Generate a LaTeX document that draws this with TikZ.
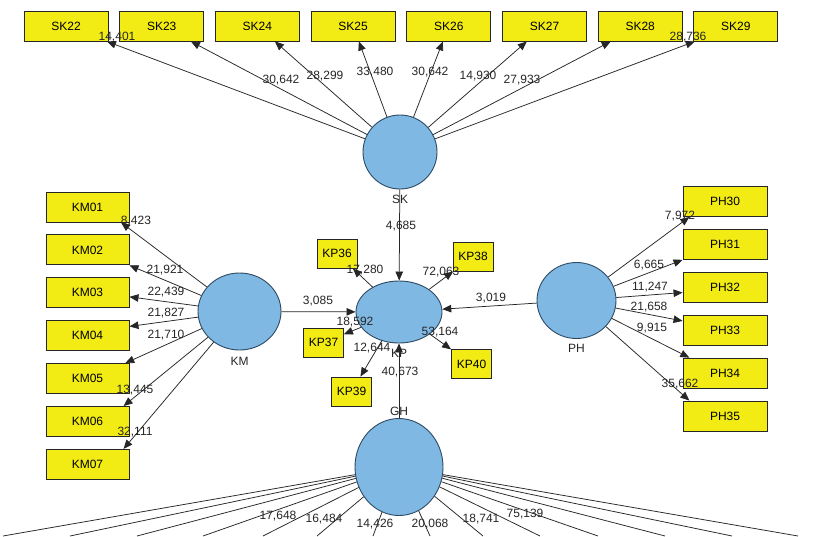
\documentclass[tikz,border=0pt]{standalone}
\usepackage{fontspec}
\setmainfont{Liberation Sans}
\usetikzlibrary{arrows.meta,positioning,calc,shapes.geometric}
\definecolor{ink}{HTML}{262626}
\definecolor{itemfill}{HTML}{F2EC14}
\definecolor{latentfill}{HTML}{80B8E4}
\definecolor{latentline}{HTML}{2E4A63}
\tikzset{
  item/.style={draw=ink, fill=itemfill, line width=0.9pt, minimum width=84pt, minimum height=30pt, inner sep=0pt, font=\fontsize{12}{14}\selectfont},
  smallitem/.style={item, minimum width=40pt, minimum height=29pt},
  latent/.style={ellipse, draw=latentline, fill=latentfill, line width=0.9pt, inner sep=0pt, label distance=4pt},
  latentname/.style={font=\fontsize{12}{14}\selectfont, text=ink, inner sep=0pt},
  arrow/.style={-{Triangle[length=9pt,width=7.5pt]}, line width=0.75pt, draw=ink},
  link/.style={line width=0.75pt, draw=ink},
  weight/.style={font=\fontsize{12}{14}\selectfont, text=ink, inner sep=0pt}
}

\begin{document}
\begin{tikzpicture}[x=1pt, y=-1pt]
  \useasboundingbox (0,0) rectangle (818,536);
  \fill[white] (0,0) rectangle (818,536);

  % latent variables
  \node[latent, minimum width=74pt, minimum height=74pt, label={[latentname, name=sklabel, label distance=5.5pt]below:SK}] (sk) at (400,152) {};
  \node[latent, minimum width=83pt, minimum height=77pt, label={[latentname, name=kmlabel, label distance=7pt]below:KM}] (km) at (239.5,311.5) {};
  \node[latent, minimum width=86pt, minimum height=62pt, label={[latentname, name=kplabel, label distance=5.5pt]below:KP}] (kp) at (399,312) {};
  \node[latent, minimum width=79pt, minimum height=76pt, label={[latentname, name=phlabel, label distance=5.5pt]below:PH}] (ph) at (576.5,300.5) {};
  \node[latent, minimum width=88pt, minimum height=97pt, label={[latentname, name=ghlabel, label distance=2.5pt]above:GH}] (gh) at (399,467) {};

  % SK indicators
  \node[item] (sk22) at (66,26) {SK22};
  \node[item, right=10.8pt of sk22] (sk23) {SK23};
  \node[item, right=10.8pt of sk23] (sk24) {SK24};
  \node[item, right=10.8pt of sk24] (sk25) {SK25};
  \node[item, right=10.8pt of sk25] (sk26) {SK26};
  \node[item, right=10.8pt of sk26] (sk27) {SK27};
  \node[item, right=10.8pt of sk27] (sk28) {SK28};
  \node[item, right=10.8pt of sk28] (sk29) {SK29};

  % KM indicators
  \node[item, minimum width=83pt] (km01) at (87.5,207) {KM01};
  \node[item, minimum width=83pt, below=12pt of km01] (km02) {KM02};
  \node[item, minimum width=83pt, below=12pt of km02] (km03) {KM03};
  \node[item, minimum width=83pt, below=12pt of km03] (km04) {KM04};
  \node[item, minimum width=83pt, below=12pt of km04] (km05) {KM05};
  \node[item, minimum width=83pt, below=12pt of km05] (km06) {KM06};
  \node[item, minimum width=83pt, below=12pt of km06] (km07) {KM07};

  % PH indicators
  \node[item] (ph30) at (725,201.5) {PH30};
  \node[item, below=12pt of ph30] (ph31) {PH31};
  \node[item, below=12pt of ph31] (ph32) {PH32};
  \node[item, below=12pt of ph32] (ph33) {PH33};
  \node[item, below=12pt of ph33] (ph34) {PH34};
  \node[item, below=12pt of ph34] (ph35) {PH35};

  % KP indicators
  \node[smallitem] (kp36) at (337,253.5) {KP36};
  \node[smallitem] (kp38) at (473,256.5) {KP38};
  \node[smallitem] (kp37) at (323.5,342.5) {KP37};
  \node[smallitem] (kp40) at (471.5,364) {KP40};
  \node[smallitem] (kp39) at (351.5,391.5) {KP39};

  % GH indicators lie below the picture
  \coordinate (g1) at (3,536);
  \coordinate (g2) at (70,536);
  \coordinate (g3) at (137,536);
  \coordinate (g4) at (203,536);
  \coordinate (g5) at (263,536);
  \coordinate (g6) at (317,536);
  \coordinate (g7) at (373,536);
  \coordinate (g8) at (430,536);
  \coordinate (g9) at (483,536);
  \coordinate (g10) at (540,536);
  \coordinate (g11) at (598,536);
  \coordinate (g12) at (665,536);
  \coordinate (g13) at (732,536);
  \coordinate (g14) at (798,536);

  \draw[arrow] (sk) -- (sk22);
  \draw[arrow] (sk) -- (sk23);
  \draw[arrow] (sk) -- (sk24);
  \draw[arrow] (sk) -- (sk25);
  \draw[arrow] (sk) -- (sk26);
  \draw[arrow] (sk) -- (sk27);
  \draw[arrow] (sk) -- (sk28);
  \draw[arrow] (sk) -- (sk29);

  \draw[arrow] (km) -- ($(km01.south west)!0.9!(km01.south east)$);
  \draw[arrow] (km) -- (km02.south east);
  \draw[arrow] (km) -- ($(km03.north east)!0.63!(km03.south east)$);
  \draw[arrow] (km) -- ($(km04.north east)!0.2!(km04.south east)$);
  \draw[arrow] (km) -- ($(km05.north west)!0.95!(km05.north east)$);
  \draw[arrow] (km) -- ($(km06.north west)!0.93!(km06.north east)$);
  \draw[arrow] (km) -- ($(km07.north west)!0.93!(km07.north east)$);

  \draw[arrow] (ph) -- ($(ph30.south west)!0.08!(ph30.south east)$);
  \draw[arrow] (ph) -- (ph31.south west);
  \draw[arrow] (ph) -- ($(ph32.north west)!0.67!(ph32.south west)$);
  \draw[arrow] (ph) -- ($(ph33.north west)!0.2!(ph33.south west)$);
  \draw[arrow] (ph) -- ($(ph34.north west)!0.08!(ph34.north east)$);
  \draw[arrow] (ph) -- ($(ph35.north west)!0.08!(ph35.north east)$);

  \draw[arrow] (kp) -- (kp36);
  \draw[arrow] (kp) -- (kp38);
  \draw[arrow] (kp) -- (kp37);
  \draw[arrow] (kp) -- (kp40);
  \draw[arrow] (kp) -- (kp39);

  \draw[arrow] (sk) -- (kp);
  \draw[arrow] (km) -- (kp);
  \draw[arrow] (ph) -- (kp);
  \draw[arrow] (gh) -- (kp);

  \draw[link] (gh) -- (g1) (gh) -- (g2) (gh) -- (g3) (gh) -- (g4) (gh) -- (g5)
    (gh) -- (g6) (gh) -- (g7) (gh) -- (g8) (gh) -- (g9) (gh) -- (g10)
    (gh) -- (g11) (gh) -- (g12) (gh) -- (g13) (gh) -- (g14);

  % weights
  \node[weight] (w22) at (117,37) {14,401};
  \node[weight] (w23) at (281,80) {30,642};
  \node[weight] (w24) at (325,76) {28,299};
  \node[weight] (w25) at (375,72) {33,480};
  \node[weight] (w26) at (430,72) {30,642};
  \node[weight] (w27) at (478,76) {14,930};
  \node[weight] (w28) at (522,80) {27,933};
  \node[weight] (w29) at (688,37) {28,736};

  \node[weight] (w01) at (136,221) {8,423};
  \node[weight] (w02) at (165,270) {21,921};
  \node[weight] (w03) at (166,292) {22,439};
  \node[weight] (w04) at (166,313) {21,827};
  \node[weight] (w05) at (166,335) {21,710};
  \node[weight] (w06) at (135,390) {13,445};
  \node[weight] (w07) at (135,432) {32,111};

  \node[weight] (w30) at (680,216) {7,972};
  \node[weight] (w31) at (649,265) {6,665};
  \node[weight] (w32) at (650,287) {11,247};
  \node[weight] (w33) at (649,307) {21,658};
  \node[weight] (w34) at (652,328) {9,915};
  \node[weight] (w35) at (680,384) {35,662};

  \node[weight] (w36) at (365,270) {17,280};
  \node[weight] (w38) at (441,272) {72,063};
  \node[weight] (w37) at (355,322) {18,592};
  \node[weight] (w40) at (440,332) {53,164};
  \node[weight] (w39) at (372,348) {12,644};

  \node[weight] (wsk) at (401,226) {4,685};
  \node[weight] (wkm) at (318,301) {3,085};
  \node[weight] (wph) at (491,298) {3,019};
  \node[weight] (wgh) at (400,372) {40,673};

  \node[weight] (wg5) at (278,516) {17,648};
  \node[weight] (wg6) at (324,519) {16,484};
  \node[weight] (wg7) at (375,524) {14,426};
  \node[weight] (wg8) at (430,524) {20,068};
  \node[weight] (wg9) at (481,519) {18,741};
  \node[weight] (wg10) at (525,514) {75,139};
\end{tikzpicture}
\end{document}
